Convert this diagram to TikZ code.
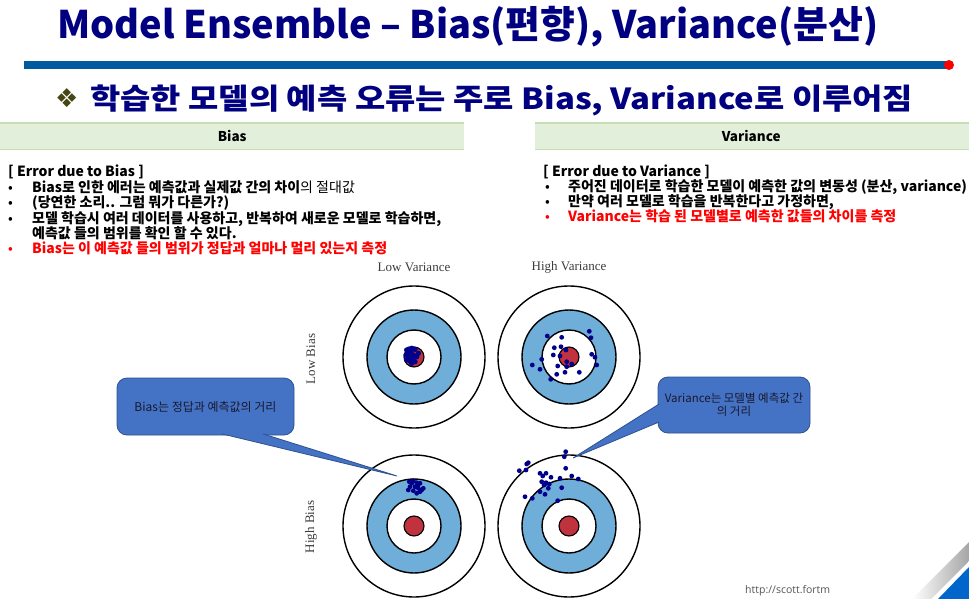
\documentclass[tikz,border=0pt]{standalone}
\usepackage{fontspec}
\usepackage{graphicx}
\setmainfont{Noto Sans CJK KR}
\newfontfamily\serifl{Liberation Serif}
\newfontfamily\dejavu{DejaVu Sans}
\newfontfamily\urlfont{Open Sans}
\usetikzlibrary{calc}
\definecolor{titlec}{RGB}{0,0,128}
\definecolor{barc}{RGB}{0,90,160}
\definecolor{olivec}{RGB}{70,70,20}
\definecolor{hdrfill}{RGB}{226,239,218}
\definecolor{hdrline}{RGB}{197,224,180}
\definecolor{ringblue}{RGB}{110,174,216}
\definecolor{bullred}{RGB}{192,50,62}
\definecolor{dotc}{RGB}{0,0,140}
\definecolor{calfill}{RGB}{68,114,196}
\definecolor{calborder}{RGB}{47,82,143}
\definecolor{caltext}{RGB}{25,25,45}
\definecolor{cornerblue}{RGB}{0,102,204}
\definecolor{labgray}{RGB}{60,60,60}
\definecolor{urlgray}{RGB}{85,85,85}
\tikzset{
  txt/.style={anchor=base west, inner sep=0pt, font=\fontsize{14}{16}\selectfont},
  hdr/.style={fill=hdrfill, draw=none, minimum height=26pt, inner sep=0pt, font=\fontsize{13.5}{15}\bfseries\selectfont},
  tlab/.style={inner sep=0pt, text=labgray, font=\serifl\fontsize{13}{15}\selectfont},
  callout/.style={fill=calfill, draw=calborder, line width=0.8pt, rounded corners=10pt, inner sep=4pt, text=caltext, font=\fontsize{12}{15}\selectfont, align=center},
  ring/.style={draw=black, line width=1.4pt},
}
\begin{document}
\begin{tikzpicture}[x=1pt,y=-1pt]
\useasboundingbox[fill=white] (0,0) rectangle (969,599);

% title
\node[anchor=base west, inner sep=0pt, text=titlec, font=\fontsize{38}{42}\bfseries\selectfont] (title) at (57,39)
  {\resizebox{821pt}{\height}{Model Ensemble – Bias(편향), Variance(분산)}};
% bar
\fill[barc] (24,61) rectangle (949,69);
\fill[red] (949,65) circle[radius=5pt];
% subtitle
\node[anchor=base west, inner sep=0pt, text=olivec, font=\dejavu\fontsize{26}{28}\selectfont] (diam) at (55,108) {❖};
\node[anchor=base west, inner sep=0pt, text=titlec, font=\fontsize{29}{32}\bfseries\selectfont] (sub) at (90,110)
  {\resizebox{823pt}{\height}{학습한 모델의 예측 오류는 주로 Bias, Variance로 이루어짐}};

% headers
\node[hdr, minimum width=464pt, anchor=north west] (hbias) at (0,123) {Bias};
\draw[hdrline, line width=1.2pt] (hbias.north west) -- (hbias.north east);
\draw[hdrline, line width=1.2pt] (hbias.south west) -- (hbias.south east);
\node[hdr, minimum width=440pt, anchor=north west] (hvar) at (535,123) {\hspace*{-8pt}Variance};
\draw[hdrline, line width=1.2pt] (hvar.north west) -- (hvar.north east);
\draw[hdrline, line width=1.2pt] (hvar.south west) -- (hvar.south east);

% left text block
\node[txt] (lb0) at (8,176) {\textbf{[ Error due to Bias ]}};
\node[txt] (lb1d) at (8,192) {•};
\node[txt] (lb1) at (32,192) {\textbf{Bias로 인한 에러는 예측값과 실제값 간의 차이}의 절대값};
\node[txt] (lb2d) at (8,207) {•};
\node[txt] (lb2) at (32,207) {\textbf{(당연한 소리.. 그럼 뭐가 다른가?)}};
\node[txt] (lb3d) at (8,223) {•};
\node[txt] (lb3) at (32,223) {\textbf{모델 학습시 여러 데이터를 사용하고, 반복하여 새로운 모델로 학습하면,}};
\node[txt] (lb4) at (32,238) {\textbf{예측값 들의 범위를 확인 할 수 있다.}};
\node[txt, text=red] (lb5d) at (8,253) {•};
\node[txt, text=red] (lb5) at (32,253) {\textbf{Bias는 이 예측값 들의 범위가 정답과 얼마나 멀리 있는지 측정}};

% right text block
\node[txt] (rb0) at (543,176) {\textbf{[ Error due to Variance ]}};
\node[txt] (rb1d) at (545,191) {•};
\node[txt] (rb1) at (568,191) {\textbf{주어진 데이터로 학습한 모델이 예측한 값의 변동성 (분산, variance)}};
\node[txt] (rb2d) at (545,206) {•};
\node[txt] (rb2) at (568,206) {\textbf{만약 여러 모델로 학습을 반복한다고 가정하면,}};
\node[txt, text=red] (rb3d) at (545,221) {•};
\node[txt, text=red] (rb3) at (568,221) {\textbf{Variance는 학습 된 모델별로 예측한 값들의 차이를 측정}};

% target labels
\node[tlab] (lv) at (414,267) {Low Variance};
\node[tlab] (hv) at (569,267) {High Variance};
\node[tlab, rotate=90] (lbias) at (311,359) {Low Bias};
\node[tlab, rotate=90] (hbiasl) at (311,527) {High Bias};

% targets
\foreach \cx/\cy in {414/357, 569/357, 414/526, 569/526}{
  \filldraw[ring, fill=white] (\cx,\cy) circle[radius=71pt];
  \filldraw[ring, fill=ringblue] (\cx,\cy) circle[radius=47pt];
  \filldraw[ring, fill=white] (\cx,\cy) circle[radius=27pt];
  \filldraw[ring, line width=1.1pt, fill=bullred] (\cx,\cy) circle[radius=10pt];
}

% dots: low bias low variance
\foreach \x/\y in {406.7/350, 409/349, 411.7/348.3, 415/349.3, 408.3/353.3, 411/352, 413.3/355, 416.7/356.7,
  410/358.3, 406.7/360, 408/356, 415/361.7, 411.7/363.3, 418.3/353.3, 406/355, 410/361, 413/359}
  \fill[dotc] (\x,\y) circle[radius=2.7pt];
% low bias high variance
\foreach \x/\y in {547.3/336, 561.7/337.3, 589.3/331.3, 591/337.7, 554.3/347.7, 561/346.7, 566/350,
  553.3/355, 560/356, 541.7/359.3, 591.7/354.3, 595/357.3, 532.3/365, 540/369.3, 557.7/366,
  566.7/361.7, 571.7/364, 566.7/366.7, 579.3/372.3, 565/372.3, 556.7/374.3, 550.7/379.3, 596.7/365}
  \fill[dotc] (\x,\y) circle[radius=2.4pt];
% high bias low variance
\foreach \x/\y in {409.3/481.7, 413.3/480.7, 416.7/482.7, 420/483.3, 410/486.7, 415/486.7, 418.3/488.3,
  423.3/488.3, 408.3/490, 413.3/490.7, 420/491.7, 416.7/493.3, 421.7/490, 411.7/483.3, 418/485}
  \fill[dotc] (\x,\y) circle[radius=2.4pt];
% high bias high variance
\foreach \x/\y in {565.7/451.7, 564.3/456.7, 528.3/462.7, 526.7/464, 519.3/470.7, 526/470, 565.7/468.3,
  540/473.3, 546/473.3, 542.7/476, 551/477.3, 560/478.3, 571.7/476, 578.3/479, 541.7/481.7, 546/482.7,
  549.3/484, 544/485, 548.3/488.3, 561.7/487.7, 540/491.7, 545/494.3, 525/496.7, 532.3/498.3, 557.7/500.7}
  \fill[dotc] (\x,\y) circle[radius=2.4pt];

% callouts
\node[callout, minimum width=177pt, minimum height=57pt] (cb) at (205.5,406.5) {Bias는 정답과 예측값의 거리};
\coordinate (cbtip) at (397,476);
\path[fill=calfill, draw=calborder, line width=0.8pt] ($(cb.south)+(16.5,-1.5)$) -- (cbtip) -- ($(cb.south)+(57.5,-1.5)$);

\node[callout, minimum width=152pt, minimum height=56pt, font=\fontsize{11.5}{14}\selectfont] (cv) at (734,405) {Variance는 모델별 예측값 간\\[-1pt]의 거리};
\coordinate (cvtip) at (573,458);
\path[fill=calfill, draw=calborder, line width=0.8pt] ($(cv.west)+(1.5,-1)$) -- (cvtip) -- ($(cv.west)+(1.5,17)$);

% url
\node[anchor=base west, inner sep=0pt, text=urlgray, font=\urlfont\fontsize{10.5}{12}\selectfont] (url) at (745,593) {http://scott.fortm};

% corner decoration
\shade[left color=white, right color=gray!70] (912,599) -- (969,542) -- (969,561) -- (931,599) -- cycle;
\fill[cornerblue] (938,599) -- (969,567) -- (969,599) -- cycle;
\end{tikzpicture}
\end{document}
